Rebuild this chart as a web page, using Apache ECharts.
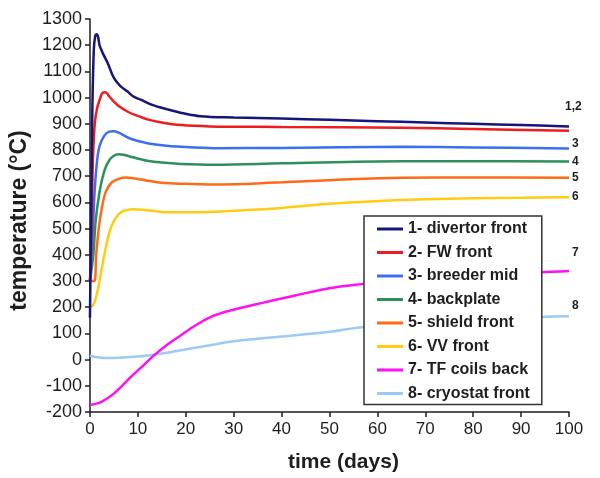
<!DOCTYPE html>
<html>
<head>
<meta charset="utf-8">
<script src="https://cdn.jsdelivr.net/npm/echarts@6/dist/echarts.min.js"></script>
<style>
  html, body { margin: 0; padding: 0; background: #fff; }
  #chart { width: 600px; height: 478px; }
</style>
</head>
<body>
<div id="chart"></div>
<script>
// Temperature histories (days / degC)
const divertorDays = [0, 0.25, 0.5, 0.8, 1.1, 1.4, 1.7, 2, 2.4, 2.8, 3.7, 5, 6.3, 7.8, 9, 10.6, 13, 16.2, 19.5, 23, 30, 40, 50, 60, 70, 80, 90, 100];
const divertorTemp = [160, 550, 950, 1180, 1235, 1242, 1232, 1200, 1182, 1165, 1132, 1075, 1045, 1024, 1005, 992, 972, 955, 940, 929, 924, 920, 915, 910, 905, 900, 895, 890];

const fwDays = [0, 0.3, 0.6, 1, 1.5, 2, 2.5, 3, 3.5, 4, 5, 6, 8, 10, 12, 15, 19, 25, 40, 65, 80, 100];
const fwTemp = [300, 450, 750, 900, 960, 990, 1015, 1020, 1018, 1005, 985, 968, 945, 930, 917, 905, 895, 890, 888, 885, 880, 873];

const breederDays = [0, 0.5, 1, 1.5, 2, 3, 4, 5, 6, 8.5, 12, 15, 19, 26, 40, 65, 80, 100];
const breederTemp = [300, 450, 650, 760, 815, 855, 870, 872, 866, 843, 826, 818, 812, 807, 808, 812, 810, 806];

const backplateDays = [0, 0.7, 1.2, 2, 3, 4, 5, 6, 7, 9, 12, 15, 19, 26, 40, 65, 80, 100];
const backplateTemp = [300, 400, 530, 640, 720, 760, 778, 784, 782, 772, 759, 752, 747, 744, 749, 757, 757, 756];

const shieldDays = [0, 0.9, 1.3, 1.9, 2.5, 3.3, 4.5, 6, 7.5, 9, 12, 15, 19, 26, 40, 50, 65, 80, 100];
const shieldTemp = [300, 300, 400, 510, 580, 640, 675, 690, 695, 692, 683, 675, 671, 668, 677, 685, 694, 695, 694];

const vvDays = [0, 0.5, 1, 1.5, 2, 2.5, 3, 3.7, 4.3, 5, 6, 7, 9, 11, 13, 17, 22, 26, 30, 40, 50, 60, 70, 80, 90, 100];
const vvTemp = [200, 205, 220, 255, 300, 350, 400, 460, 500, 528, 555, 567, 574, 572, 568, 562, 562, 564, 568, 579, 595, 605, 612, 616, 618, 620];

const tfDays = [0, 2.3, 5, 8.5, 11, 13.3, 16, 19, 22, 25.5, 29.4, 35, 40, 50, 57, 65, 75, 85, 94, 100];
const tfTemp = [-173, -162, -130, -67, -25, 15, 55, 93, 130, 165, 188, 212, 233, 272, 289, 305, 318, 328, 333, 338];

const cryoDays = [0, 2, 4, 8.5, 13, 16, 19, 25, 30, 40, 50, 57, 65, 75, 85, 94, 100];
const cryoTemp = [15, 8, 6, 10, 18, 26, 36, 55, 70, 88, 106, 124, 135, 148, 157, 163, 165];

const seriesNames = ['1- divertor front', '2- FW front', '3- breeder mid', '4- backplate',
    '5- shield front', '6- VV front', '7- TF coils back', '8- cryostat front'];
const seriesColors = ['#15157a', '#ee1c1c', '#3b6ff0', '#2e8f5a', '#ff6a17', '#ffcc11', '#ff10f0', '#9ccaf6'];
const endTags = ['1,2', '', '3', '4', '5', '6', '7', '8'];
const endOffsets = [[-7, -20], [0, 0], [0, -5], [0, 0], [0, 0], [0, 0], [0, -18], [0, -11]];

const xTicks = { min: 0, max: 100, interval: 10 };
const yTicks = { min: -200, max: 1300, interval: 100 };

const allDays = [divertorDays, fwDays, breederDays, backplateDays, shieldDays, vvDays, tfDays, cryoDays];
const allTemps = [divertorTemp, fwTemp, breederTemp, backplateTemp, shieldTemp, vvTemp, tfTemp, cryoTemp];

const font = '"Liberation Sans", Arial, Helvetica, sans-serif';
const ink = '#1e1e1e';

function pairs(xs, ys) {
    return xs.map((x, i) => [x, ys[i]]);
}

// later series drawn first so the divertor line sits on top
const series = seriesNames.map((name, i) => ({
    name: name,
    type: 'line',
    data: pairs(allDays[i], allTemps[i]),
    symbol: 'none',
    showSymbol: false,
    smooth: 0.35,
    color: seriesColors[i],
    lineStyle: { width: 2.5, color: seriesColors[i] },
    z: 3,
    endLabel: {
        show: endTags[i] !== '',
        formatter: () => endTags[i],
        distance: 3,
        offset: endOffsets[i],
        color: ink,
        fontFamily: font,
        fontWeight: 'bold',
        fontSize: 12
    }
})).reverse();

const chart = echarts.init(document.getElementById('chart'));

const option = {
    backgroundColor: '#fff',
    animation: false,
    textStyle: { fontFamily: font },
    grid: { left: 89, right: 31, top: 19, bottom: 63 },
    legend: {
        orient: 'vertical',
        left: 364,
        top: 216,
        z: 20,
        data: seriesNames,
        icon: 'rect',
        itemWidth: 26,
        itemHeight: 3,
        itemGap: 7.5,
        padding: [5, 12, 3, 13],
        backgroundColor: '#fff',
        borderColor: '#333',
        borderWidth: 1.5,
        textStyle: {
            color: ink,
            fontFamily: font,
            fontWeight: 'bold',
            fontSize: 16,
            lineHeight: 16
        }
    },
    xAxis: {
        type: 'value',
        min: xTicks.min,
        max: xTicks.max,
        interval: xTicks.interval,
        name: 'time (days)',
        nameLocation: 'middle',
        nameGap: 40,
        nameTextStyle: { color: ink, fontWeight: 'bold', fontSize: 21, fontFamily: font, padding: [0, 0, 0, 28] },
        axisLine: { onZero: false, lineStyle: { color: ink, width: 1.5 } },
        axisTick: { length: 5, lineStyle: { color: ink, width: 1.5 } },
        axisLabel: { color: ink, fontSize: 17, margin: 9 },
        splitLine: { show: false }
    },
    yAxis: {
        type: 'value',
        min: yTicks.min,
        max: yTicks.max,
        interval: yTicks.interval,
        name: 'temperature (°C)',
        nameLocation: 'middle',
        nameGap: 55,
        nameTextStyle: { color: ink, fontWeight: 'bold', fontSize: 23, fontFamily: font, padding: [0, 10, 0, 0] },
        axisLine: { show: true, lineStyle: { color: ink, width: 1.5 } },
        axisTick: { show: true, length: 5, lineStyle: { color: ink, width: 1.5 } },
        axisLabel: { color: ink, fontSize: 18, margin: 8, formatter: (v) => String(v) },
        splitLine: { show: false }
    },
    series: series
};

chart.setOption(option);
</script>
</body>
</html>
